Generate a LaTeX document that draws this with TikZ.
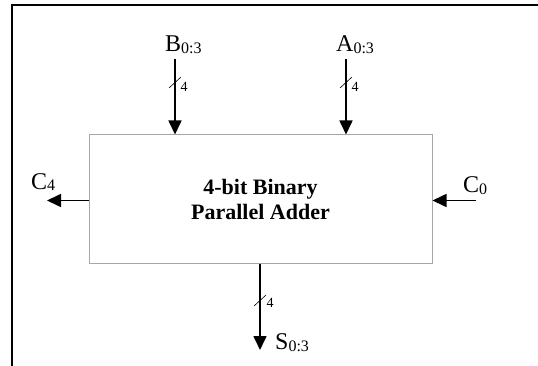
\documentclass[tikz,border=0pt]{standalone}
\usepackage{fontspec}
\setmainfont{Liberation Serif}
\usetikzlibrary{arrows.meta}
\newcommand{\lbl}[2]{{\fontsize{24}{24}\selectfont #1}\raisebox{-0.4ex}{\fontsize{16}{16}\selectfont #2}}
\tikzset{
  sig/.style={line width=1.6pt,-{Triangle[length=14pt,width=13pt]}},
  busslash/.style={line width=0.6pt},
  lab/.style={inner sep=0pt,anchor=west},
  bw/.style={inner sep=0pt,font=\fontsize{14}{14}\selectfont}
}
\begin{document}
\begin{tikzpicture}[x=1pt,y=-1pt]
\useasboundingbox (0,0) rectangle (538,366);
\draw[line width=2pt] (12,366) -- (12,5) -- (538,5);
\node[draw=gray!70,line width=1pt,minimum width=343pt,minimum height=128pt,inner sep=0pt,
  align=center,font=\bfseries\fontsize{22}{25}\selectfont] (box) at (260.5,199) {4-bit Binary\\Parallel Adder};
% inputs B and A
\node[lab] (B) at (165,45) {\lbl{B}{0:3}};
\node[lab] (A) at (336,45) {\lbl{A}{0:3}};
\coordinate (bs) at (175,59);
\coordinate (as) at (346,59);
\draw[sig] (bs) -- (bs |- box.north);
\draw[sig] (as) -- (as |- box.north);
\draw[busslash] (169,88) -- (181,77);
\node[bw] at (184,87) {4};
\draw[busslash] (340,88) -- (352,77);
\node[bw] at (355,87) {4};
% carries
\node[lab] (C4) at (31,182) {\lbl{C}{4}};
\node[lab] (C0) at (463,186) {\lbl{C}{0}};
\coordinate (c4e) at (47,200.5);
\coordinate (c0s) at (476,200.5);
\draw[sig] (box.west |- c4e) -- (c4e);
\draw[sig] (c0s) -- (box.east |- c0s);
% output S
\coordinate (se) at (260,350);
\draw[sig] (se |- box.south) -- (se);
\draw[busslash] (254,306) -- (266,295);
\node[bw] at (270,303) {4};
\node[lab] (S) at (275,343) {\lbl{S}{0:3}};
\end{tikzpicture}
\end{document}
